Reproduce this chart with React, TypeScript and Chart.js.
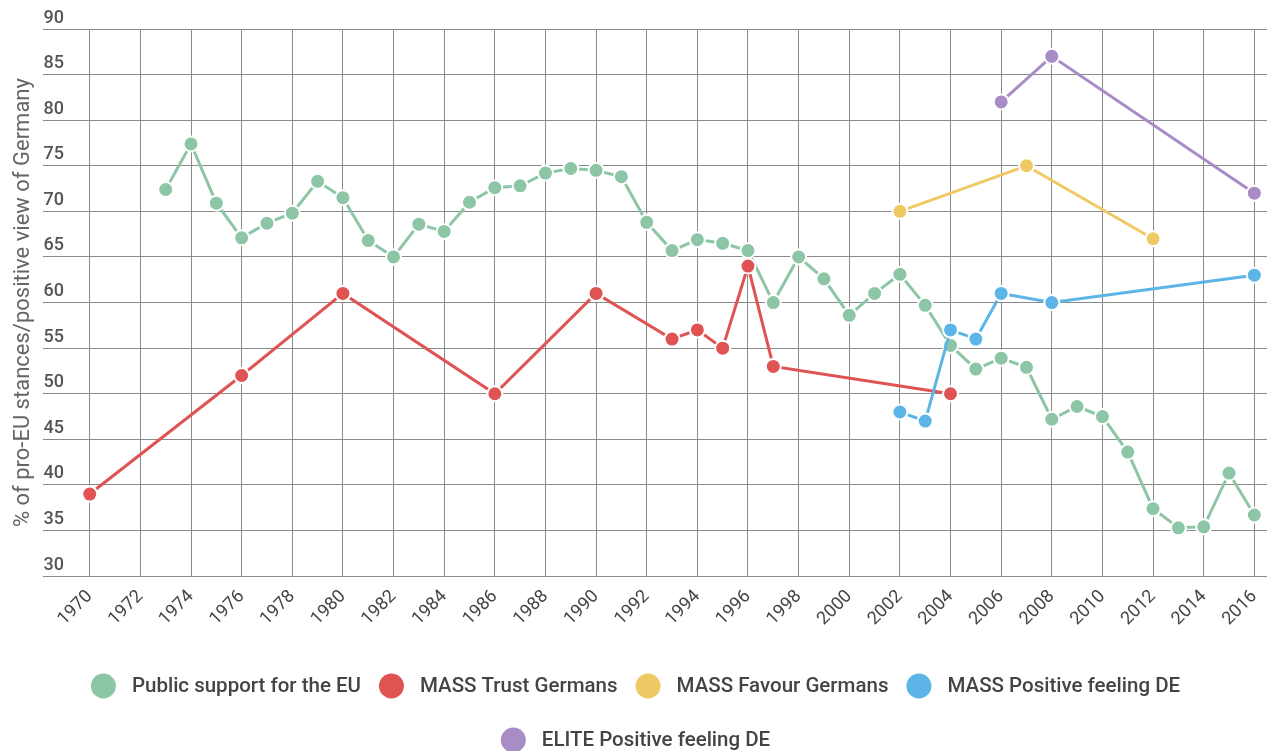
import React, { useEffect, useRef } from "react";
import { Chart, registerables } from "chart.js";

Chart.register(...registerables);

// ---- Data ----
const publicYears = [1973, 1974, 1975, 1976, 1977, 1978, 1979, 1980, 1981, 1982, 1983, 1984, 1985, 1986, 1987, 1988, 1989, 1990, 1991, 1992, 1993, 1994, 1995, 1996, 1997, 1998, 1999, 2000, 2001, 2002, 2003, 2004, 2005, 2006, 2007, 2008, 2009, 2010, 2011, 2012, 2013, 2014, 2015, 2016];
const publicValues = [72.4, 77.4, 70.9, 67.1, 68.7, 69.8, 73.3, 71.5, 66.8, 65.0, 68.6, 67.8, 71.0, 72.6, 72.8, 74.2, 74.7, 74.5, 73.8, 68.8, 65.7, 66.9, 66.5, 65.7, 60.0, 65.0, 62.6, 58.6, 61.0, 63.1, 59.7, 55.3, 52.7, 53.9, 52.9, 47.2, 48.6, 47.5, 43.6, 37.4, 35.3, 35.4, 41.3, 36.7];

const trustYears = [1970, 1976, 1980, 1986, 1990, 1993, 1994, 1995, 1996, 1997, 2004];
const trustValues = [39, 52, 61, 50, 61, 56, 57, 55, 64, 53, 50];

const favourYears = [2002, 2007, 2012];
const favourValues = [70, 75, 67];

const massFeelingYears = [2002, 2003, 2004, 2005, 2006, 2008, 2016];
const massFeelingValues = [48, 47, 57, 56, 61, 60, 63];

const eliteYears = [2006, 2008, 2016];
const eliteValues = [82, 87, 72];

const seriesLabels = [
  "Public support for the EU",
  "MASS Trust Germans",
  "MASS Favour Germans",
  "MASS Positive feeling DE",
  "ELITE Positive feeling DE",
];
const seriesColors = ["#8dc6a6", "#df5353", "#efc964", "#5cb5e6", "#a78cc6"];

const yAxisTitle = "% of pro-EU stances/positive view of Germany";
const firstTickYear = 1970;
const lastTickYear = 2016;

const toPoints = (xs: number[], ys: number[]) => xs.map((x, i) => ({ x, y: ys[i] }));

const legendPlugin = {
  id: "customLegend",
  afterDraw(chart: any) {
    const ctx = chart.ctx as CanvasRenderingContext2D;
    const datasets = chart.data.datasets;
    const R = 12.5;
    const gapText = 16;
    const gapItem = 18;
    const firstRowY = 686;
    const rowStep = 54;
    ctx.save();
    ctx.font = "500 20.5px Roboto";
    const items = datasets.map((ds: any) => {
      const tw = ctx.measureText(ds.label).width;
      return { label: ds.label, color: ds.backgroundColor, tw, w: 2 * R + gapText + tw };
    });
    const maxW = chart.width - 60;
    const rows: any[][] = [];
    let cur: any[] = [];
    let curW = 0;
    items.forEach((it: any) => {
      const add = cur.length ? gapItem + it.w : it.w;
      if (cur.length && curW + add > maxW) {
        rows.push(cur);
        cur = [it];
        curW = it.w;
      } else {
        cur.push(it);
        curW += add;
      }
    });
    if (cur.length) rows.push(cur);
    rows.forEach((row, ri) => {
      const total = row.reduce((s, it, i) => s + it.w + (i ? gapItem : 0), 0);
      let x = (chart.width - total) / 2;
      const y = firstRowY + ri * rowStep;
      row.forEach((it) => {
        ctx.beginPath();
        ctx.fillStyle = it.color;
        ctx.arc(x + R, y, R, 0, Math.PI * 2);
        ctx.fill();
        ctx.fillStyle = "#444";
        ctx.textAlign = "left";
        ctx.textBaseline = "middle";
        ctx.fillText(it.label, x + 2 * R + gapText, y + 1);
        x += it.w + gapItem;
      });
    });
    ctx.restore();
  },
};

export default function App() {
  const ref = useRef<HTMLCanvasElement | null>(null);

  useEffect(() => {
    if (!ref.current) return;
    const allSeries = [
      toPoints(publicYears, publicValues),
      toPoints(trustYears, trustValues),
      toPoints(favourYears, favourValues),
      toPoints(massFeelingYears, massFeelingValues),
      toPoints(eliteYears, eliteValues),
    ];
    const gridColor = "#8a8a8a";
    const chart = new Chart(ref.current, {
      type: "line",
      data: {
        datasets: allSeries.map((pts, i) => ({
          label: seriesLabels[i],
          data: pts,
          borderColor: seriesColors[i],
          backgroundColor: seriesColors[i],
          pointBackgroundColor: seriesColors[i],
          pointBorderColor: "#ffffff",
          pointBorderWidth: 2,
          pointRadius: 7.5,
          borderWidth: 3,
          tension: 0,
          fill: false,
          clip: false,
          order: allSeries.length - i,
        })),
      },
      options: {
        responsive: false,
        animation: false,
        layout: { autoPadding: false, padding: { top: 29, left: 7, right: 4, bottom: 111 } },
        plugins: {
          legend: { display: false },
          tooltip: { enabled: false },
        },
        scales: {
          x: {
            type: "linear",
            min: 1968.17,
            max: 2016.5,
            border: { display: false },
            grid: { color: gridColor, lineWidth: 1, drawTicks: false },
            afterBuildTicks: (scale: any) => {
              const t: any[] = [];
              for (let y = firstTickYear; y <= lastTickYear; y += 2) t.push({ value: y });
              scale.ticks = t;
            },
            afterFit: (scale: any) => {
              scale.paddingLeft = 0;
              scale.paddingRight = 0;
            },
            ticks: {
              stepSize: 2,
              autoSkip: false,
              maxRotation: 45,
              minRotation: 45,
              padding: 10,
              color: "#444",
              font: { family: "Roboto", size: 18 },
              callback: (v: any) => String(v),
            },
          },
          y: {
            min: 30,
            max: 90,
            border: { display: false },
            grid: { color: gridColor, lineWidth: 1, drawTicks: false },
            title: {
              display: true,
              text: yAxisTitle,
              color: "#666",
              font: { family: "Roboto", size: 22 },
              padding: { top: 3, bottom: 7 },
            },
            ticks: {
              stepSize: 5,
              mirror: true,
              padding: 0,
              labelOffset: -11,
              color: "#555",
              font: { family: "Roboto", size: 18, weight: "500" },
            },
          },
        },
      },
      plugins: [legendPlugin],
    });
    return () => chart.destroy();
  }, []);

  return (
    <div style={{ position: "absolute", left: 0, top: 0, width: 1271, height: 751, background: "#fff" }}>
      <canvas ref={ref} width={1271} height={751} style={{ display: "block" }} />
    </div>
  );
}
